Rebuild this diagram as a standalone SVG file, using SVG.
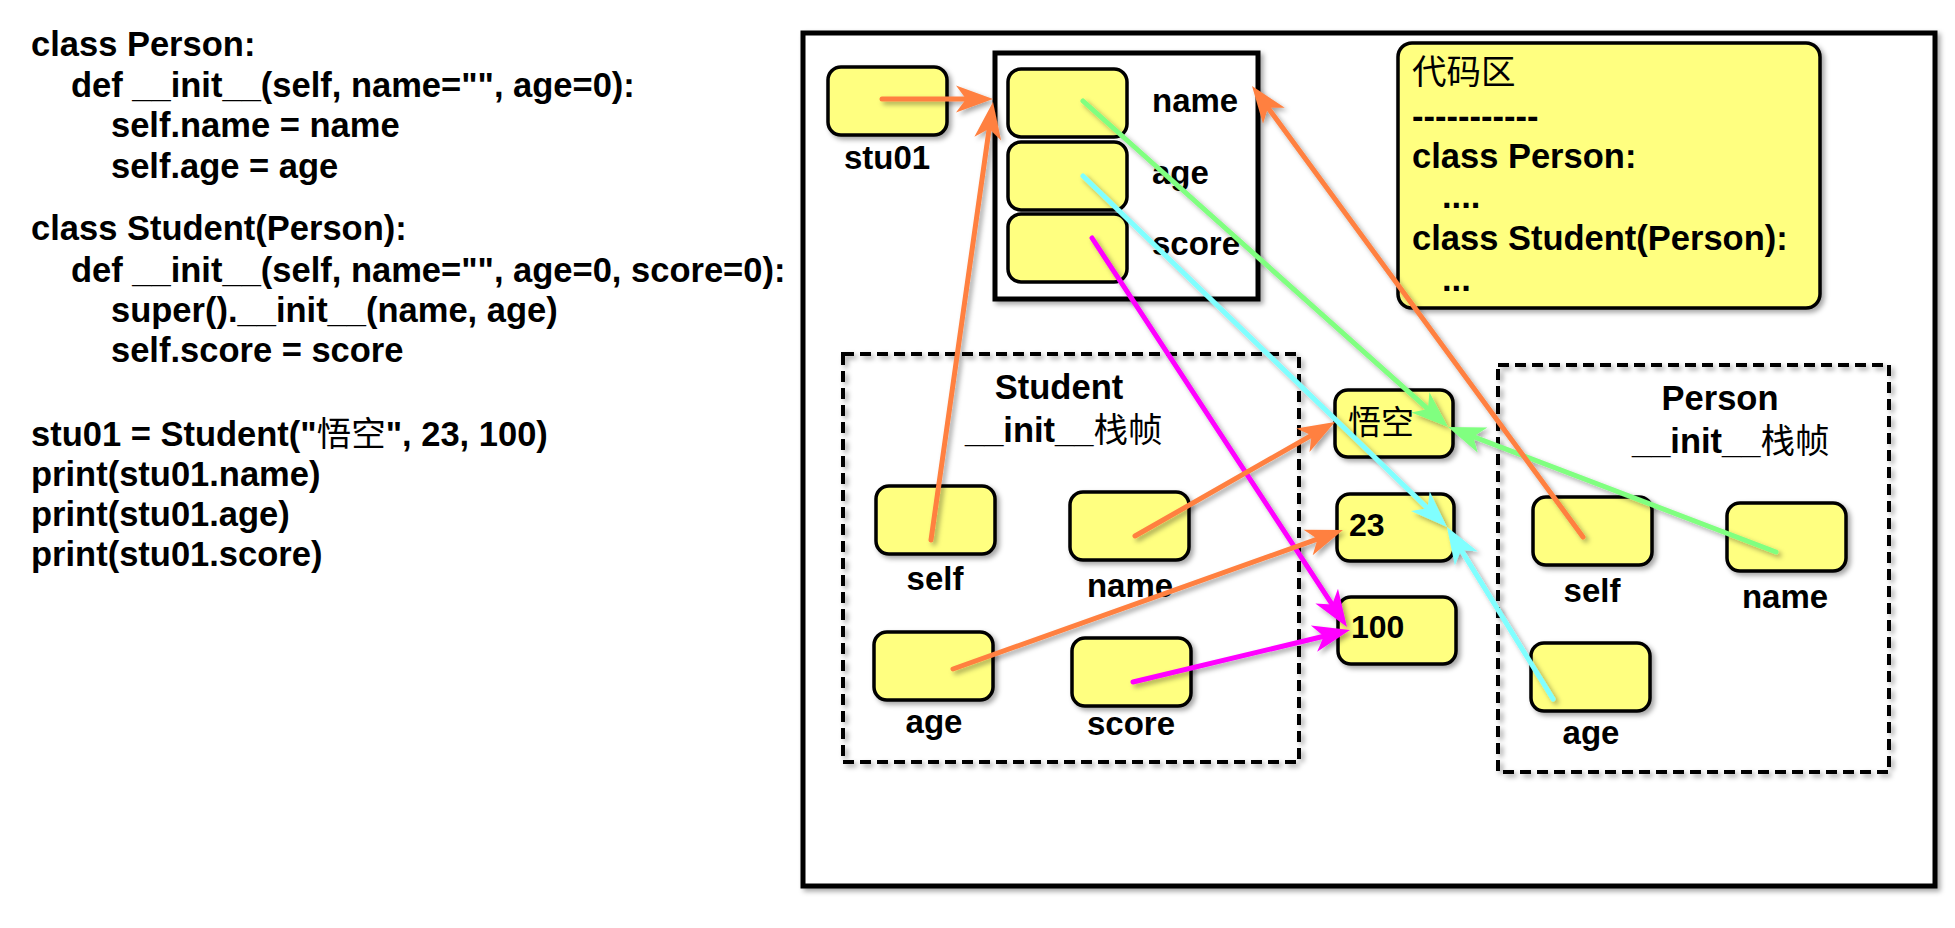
<svg xmlns="http://www.w3.org/2000/svg" width="1955" height="928" viewBox="0 0 1955 928">
<style>
  .code { font-family: "Liberation Sans", Arial, "Noto Sans CJK SC", sans-serif; font-weight: bold; font-size: 34.5px; fill: #000; }
  .lbl { font-family: "Liberation Sans", Arial, sans-serif; font-weight: bold; font-size: 33px; fill: #000; }
  .cjk { font-family: "Noto Sans CJK SC", sans-serif; font-weight: normal; }
  .slot { fill: #FFFF80; stroke: #000; stroke-width: 3.5; }
  .frame { fill: none; stroke: #000; stroke-width: 4; stroke-dasharray: 11 6; }
  .conn { fill: none; stroke-width: 5; stroke-linecap: round; }
  .or { stroke: #FF8040; }
  .gr { stroke: #80FF80; }
  .cy { stroke: #80FFFF; }
  .mg { stroke: #FF00FF; }
</style>
<defs>
  <filter id="sh" x="-20%" y="-20%" width="140%" height="140%">
    <feDropShadow dx="3" dy="3" stdDeviation="2.5" flood-color="#000" flood-opacity="0.35"/>
  </filter>
  <marker id="aOr" viewBox="-40 -16 42 32" markerWidth="42" markerHeight="32" refX="-14" refY="0" orient="auto" markerUnits="userSpaceOnUse">
    <path d="M0,0 L-37,-13.5 L-27,0 L-37,13.5 Z" fill="#FF8040"/>
  </marker>
  <marker id="aGr" viewBox="-40 -16 42 32" markerWidth="42" markerHeight="32" refX="-14" refY="0" orient="auto" markerUnits="userSpaceOnUse">
    <path d="M0,0 L-37,-13.5 L-27,0 L-37,13.5 Z" fill="#80FF80"/>
  </marker>
  <marker id="aCy" viewBox="-40 -16 42 32" markerWidth="42" markerHeight="32" refX="-14" refY="0" orient="auto" markerUnits="userSpaceOnUse">
    <path d="M0,0 L-37,-13.5 L-27,0 L-37,13.5 Z" fill="#80FFFF"/>
  </marker>
  <marker id="aMg" viewBox="-40 -16 42 32" markerWidth="42" markerHeight="32" refX="-14" refY="0" orient="auto" markerUnits="userSpaceOnUse">
    <path d="M0,0 L-37,-13.5 L-27,0 L-37,13.5 Z" fill="#FF00FF"/>
  </marker>
</defs>
<rect width="1955" height="928" fill="#fff"/>

<g id="source-code">
  <text class="code" x="31" y="56">class Person:</text>
  <text class="code" x="71" y="97">def __init__(self, name="", age=0):</text>
  <text class="code" x="111" y="137">self.name = name</text>
  <text class="code" x="111" y="178">self.age = age</text>
  <text class="code" x="31" y="240">class Student(Person):</text>
  <text class="code" x="71" y="282">def __init__(self, name="", age=0, score=0):</text>
  <text class="code" x="111" y="322">super().__init__(name, age)</text>
  <text class="code" x="111" y="362">self.score = score</text>
  <text class="code" x="31" y="446">stu01 = Student("<tspan class="cjk">悟空</tspan>", 23, 100)</text>
  <text class="code" x="31" y="486">print(stu01.name)</text>
  <text class="code" x="31" y="526">print(stu01.age)</text>
  <text class="code" x="31" y="566">print(stu01.score)</text>
</g>

<g id="memory">
  <rect x="803" y="33" width="1132" height="853" fill="#fff" stroke="#000" stroke-width="5" filter="url(#sh)"/>
</g>

<g id="stu01">
  <rect class="slot" x="828" y="67" width="119" height="68" rx="13" filter="url(#sh)"/>
  <text class="lbl" x="887" y="169" text-anchor="middle">stu01</text>
</g>

<g id="student-object">
  <rect x="995" y="53" width="263" height="246" fill="#fff" stroke="#000" stroke-width="5" filter="url(#sh)"/>
  <rect class="slot" x="1008" y="69" width="119" height="68" rx="13"/>
  <rect class="slot" x="1008" y="142" width="119" height="68" rx="13"/>
  <rect class="slot" x="1008" y="214" width="119" height="68" rx="13"/>
  <text class="lbl" x="1152" y="112">name</text>
  <text class="lbl" x="1152" y="184">age</text>
  <text class="lbl" x="1152" y="255">score</text>
</g>

<g id="code-area">
  <rect x="1398" y="43" width="422" height="265" rx="14" fill="#FFFF80" stroke="#000" stroke-width="3.5" filter="url(#sh)"/>
  <text class="code cjk" x="1412" y="84" style="font-weight:normal">代码区</text>
  <text class="code" x="1412" y="128">-----------</text>
  <text class="code" x="1412" y="168">class Person:</text>
  <text class="code" x="1442" y="208">....</text>
  <text class="code" x="1412" y="250">class Student(Person):</text>
  <text class="code" x="1442" y="291">...</text>
</g>

<g id="student-init-frame">
  <rect class="frame" x="843" y="354" width="456" height="408" filter="url(#sh)"/>
  <text class="code" x="1059" y="399" text-anchor="middle">Student</text>
  <text class="code" x="965" y="442">__init__<tspan class="cjk">栈帧</tspan></text>
  <rect class="slot" x="876" y="486" width="119" height="68" rx="13" filter="url(#sh)"/>
  <text class="lbl" x="935" y="590" text-anchor="middle">self</text>
  <rect class="slot" x="1070" y="492" width="119" height="68" rx="13" filter="url(#sh)"/>
  <text class="lbl" x="1130" y="597" text-anchor="middle">name</text>
  <rect class="slot" x="874" y="632" width="119" height="68" rx="13" filter="url(#sh)"/>
  <text class="lbl" x="934" y="733" text-anchor="middle">age</text>
  <rect class="slot" x="1072" y="638" width="119" height="68" rx="13" filter="url(#sh)"/>
  <text class="lbl" x="1131" y="735" text-anchor="middle">score</text>
</g>

<g id="values">
  <g id="val-wukong">
    <rect class="slot" x="1335" y="390" width="118" height="67" rx="13" filter="url(#sh)"/>
    <text class="lbl cjk" x="1348" y="434" style="font-size:33px">悟空</text>
  </g>
  <g id="val-23">
    <rect class="slot" x="1337" y="494" width="117" height="67" rx="13" filter="url(#sh)"/>
    <text class="lbl" x="1349" y="536" style="font-size:32px">23</text>
  </g>
  <g id="val-100">
    <rect class="slot" x="1338" y="597" width="118" height="67" rx="13" filter="url(#sh)"/>
    <text class="lbl" x="1351" y="638" style="font-size:32px">100</text>
  </g>
</g>

<g id="person-init-frame">
  <rect class="frame" x="1498" y="365" width="391" height="407" filter="url(#sh)"/>
  <text class="code" x="1720" y="410" text-anchor="middle">Person</text>
  <text class="code" x="1632" y="453">__init__<tspan class="cjk">栈帧</tspan></text>
  <rect class="slot" x="1533" y="497" width="119" height="68" rx="13" filter="url(#sh)"/>
  <text class="lbl" x="1592" y="602" text-anchor="middle">self</text>
  <rect class="slot" x="1727" y="503" width="119" height="68" rx="13" filter="url(#sh)"/>
  <text class="lbl" x="1785" y="608" text-anchor="middle">name</text>
  <rect class="slot" x="1531" y="643" width="119" height="68" rx="13" filter="url(#sh)"/>
  <text class="lbl" x="1591" y="744" text-anchor="middle">age</text>
</g>

<g id="connectors" filter="url(#sh)">
  <path class="conn or" d="M882,99 L979,99" marker-end="url(#aOr)"/>
  <path class="conn or" d="M931,540 L991,115.9" marker-end="url(#aOr)"/>
  <path class="conn gr" d="M1083,101 L1437.6,417.7" marker-end="url(#aGr)"/>
  <path class="conn gr" d="M1776,552 L1461.1,432" marker-end="url(#aGr)"/>
  <path class="conn cy" d="M1083,176 L1436.9,517.3" marker-end="url(#aCy)"/>
  <path class="conn cy" d="M1553,699 L1454.3,538.9" marker-end="url(#aCy)"/>
  <path class="conn mg" d="M1092,238 L1339.3,615.3" marker-end="url(#aMg)"/>
  <path class="conn mg" d="M1133,682 L1336.4,633.3" marker-end="url(#aMg)"/>
  <path class="conn or" d="M1135,536 L1322.8,428.9" marker-end="url(#aOr)"/>
  <path class="conn or" d="M953,669 L1329.8,534.7" marker-end="url(#aOr)"/>
  <path class="conn or" d="M1583,537 L1260.3,97.3" marker-end="url(#aOr)"/>
</g>
</svg>
